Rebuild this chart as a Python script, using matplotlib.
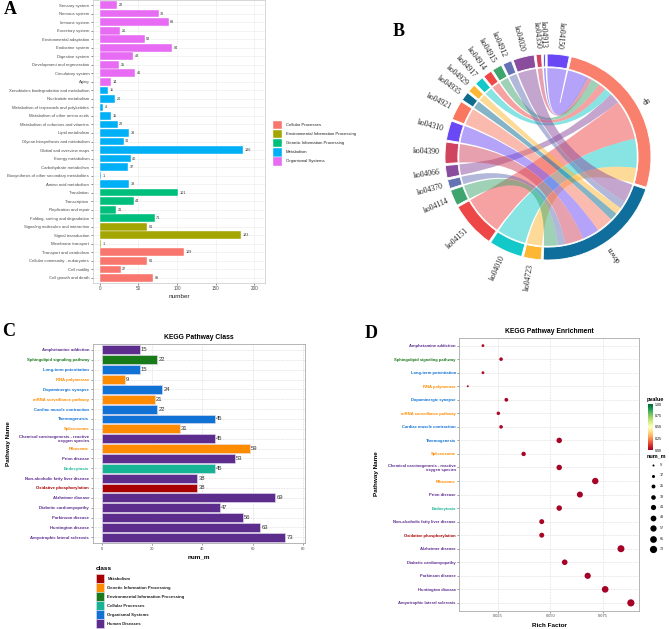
import numpy as np
import matplotlib
matplotlib.use("Agg")
import matplotlib.pyplot as plt
from matplotlib.path import Path
from matplotlib.patches import PathPatch, Wedge, Rectangle

plt.rcParams['font.family'] = ['Liberation Sans', 'DejaVu Sans']

W, H = 669, 629
fig = plt.figure(figsize=(W / 100, H / 100), dpi=100)


def rect(l, t, r, b):
    return [l / W, 1 - b / H, (r - l) / W, (b - t) / H]


# ---------------- Panel A data ----------------
a_categories = [
    "Sensory system", "Nervous system", "Immune system", "Excretory system",
    "Environmental adaptation", "Endocrine system", "Digestive system",
    "Development and regeneration", "Circulatory system", "Aging",
    "Xenobiotics biodegradation and metabolism", "Nucleotide metabolism",
    "Metabolism of terpenoids and polyketides", "Metabolism of other amino acids",
    "Metabolism of cofactors and vitamins", "Lipid metabolism",
    "Glycan biosynthesis and metabolism", "Global and overview maps",
    "Energy metabolism", "Carbohydrate metabolism",
    "Biosynthesis of other secondary metabolites", "Amino acid metabolism",
    "Translation", "Transcription", "Replication and repair",
    "Folding, sorting and degradation", "Signaling molecules and interaction",
    "Signal transduction", "Membrane transport", "Transport and catabolism",
    "Cellular community - eukaryotes", "Cell motility", "Cell growth and death",
]
a_values = [22, 76, 89, 26, 58, 94, 43, 25, 46, 14,
            11, 20, 4, 15, 23, 38, 31, 186, 40, 37, 1, 38,
            101, 44, 21, 71,
            61, 183, 1,
            109, 61, 27, 69]
a_class = (["Organismal Systems"] * 10 + ["Metabolism"] * 12 +
           ["Genetic Information Processing"] * 4 +
           ["Environmental Information Processing"] * 3 +
           ["Cellular Processes"] * 4)
a_class_names = ["Cellular Processes", "Environmental Information Processing",
                 "Genetic Information Processing", "Metabolism", "Organismal Systems"]
a_class_colors = ["#F8766D", "#A3A500", "#00BF7D", "#00B0F6", "#E76BF3"]
a_xticks = [0, 50, 100, 150, 200]

# ---------------- Panel B data ----------------
b_sectors = ["ko04150", "up", "down", "ko04723", "ko04010", "ko04151", "ko04114",
             "ko04370", "ko04066", "ko04390", "ko04310", "ko04921", "ko04935",
             "ko04929", "ko04917", "ko04914", "ko04915", "ko04912", "ko04020",
             "ko04350", "ko04913"]
b_colors = ["#6A48F4", "#F9806C", "#0F6E9C", "#FDB733", "#12C8C8", "#EE4747",
            "#3FA46E", "#6572B4", "#8A4D9E", "#D1445F", "#6A48F4", "#F9765F",
            "#0D6B8E", "#FDB733", "#12C8C8", "#EE4747", "#3FA46E", "#6572B4",
            "#8A4D9E", "#D1445F", "#3B3AF0"]
b_link_source = ["ko04150", "ko04913", "ko04350", "ko04915", "ko04914", "ko04917",
                 "ko04066", "ko04151", "ko04010", "ko04723",
                 "ko04020", "ko04912", "ko04929", "ko04935", "ko04921", "ko04310",
                 "ko04390", "ko04370", "ko04114"]
b_link_target = ["up"] * 10 + ["down"] * 9
b_link_value = [12.5, 1.0, 3.0, 5.5, 5.0, 5.0, 7.0, 26.0, 19.0, 10.0,
                12.0, 5.0, 4.5, 5.0, 11.0, 11.0, 12.0, 5.0, 9.0]

# ---------------- Panel C / D data ----------------
cd_pathways = ["Amphetamine addiction", "Sphingolipid signaling pathway",
               "Long-term potentiation", "RNA polymerase", "Dopaminergic synapse",
               "mRNA surveillance pathway", "Cardiac muscle contraction",
               "Thermogenesis", "Spliceosome",
               "Chemical carcinogenesis - reactive\noxygen species", "Ribosome",
               "Prion disease", "Endocytosis", "Non-alcoholic fatty liver disease",
               "Oxidative phosphorylation", "Alzheimer disease",
               "Diabetic cardiomyopathy", "Parkinson disease", "Huntington disease",
               "Amyotrophic lateral sclerosis"]
cd_class = ["Human Diseases", "Environmental Information Processing",
            "Organismal Systems", "Genetic Information Processing",
            "Organismal Systems", "Genetic Information Processing",
            "Organismal Systems", "Organismal Systems",
            "Genetic Information Processing", "Human Diseases",
            "Genetic Information Processing", "Human Diseases",
            "Cellular Processes", "Human Diseases", "Metabolism",
            "Human Diseases", "Human Diseases", "Human Diseases",
            "Human Diseases", "Human Diseases"]
c_num_m = [15, 22, 15, 9, 24, 21, 22, 45, 31, 45, 59, 53, 45, 38, 38, 69, 47, 56, 63, 73]
c_class_names = ["Metabolism", "Genetic Information Processing",
                 "Environmental Information Processing", "Cellular Processes",
                 "Organismal Systems", "Human Diseases"]
c_class_colors = ["#A80000", "#FF8C00", "#187A18", "#16B494", "#1072D4", "#5D2D8E"]
c_xticks = [0, 20, 40, 60, 80]
d_rich_factor = [0.0180, 0.0266, 0.0180, 0.0108, 0.0291, 0.0253, 0.0266, 0.0542,
                 0.0373, 0.0542, 0.0713, 0.0640, 0.0542, 0.0459, 0.0459, 0.0835,
                 0.0568, 0.0677, 0.0760, 0.0882]
d_pvalue = [0.02, 0.01, 0.02, 0.03, 0.01, 0.02, 0.01, 0.005, 0.01, 0.005,
            0.004, 0.003, 0.01, 0.01, 0.01, 0.001, 0.005, 0.002, 0.001, 0.001]
d_xticks = [0.025, 0.050, 0.075]
d_size_legend = [9, 17, 25, 33, 41, 49, 57, 65, 73]

TXT = "#4D4D4D"

# ================= Panel A =================
axA = fig.add_axes(rect(92.7, 0, 265, 283))
ya = np.arange(len(a_categories))
amap = dict(zip(a_class_names, a_class_colors))
axA.barh(ya, a_values, height=0.9, color=[amap[c] for c in a_class],
         edgecolor="white", linewidth=0.3, zorder=2)
for yi, v in zip(ya, a_values):
    axA.text(v + 2, yi, str(v), fontsize=2.7, va="center", ha="left", color="#333333")
axA.set_ylim(len(ya) - 0.4, -0.6)
axA.set_xlim(-9.3, 214)
axA.set_yticks(ya)
axA.set_yticklabels(a_categories, fontsize=3.1, color=TXT)
axA.set_xticks(a_xticks)
axA.set_xticklabels([str(t) for t in a_xticks], fontsize=3.3, color=TXT)
axA.tick_params(length=1.5, width=0.4, color="#333333", pad=1)
axA.grid(color="#EBEBEB", lw=0.4, zorder=0)
axA.set_axisbelow(True)
for s in axA.spines.values():
    s.set_color("#C8C8C8")
    s.set_linewidth(0.5)
axA.set_xlabel("number", fontsize=4.6, labelpad=2, color="#222222")

# ================= Panel B =================
Rpx = 103.0
cx, cy, half = 548, 157, 135
axB = fig.add_axes(rect(cx - half, cy - half, cx + half, cy + half))
axB.set_xlim(-half / Rpx, half / Rpx)
axB.set_ylim(-half / Rpx, half / Rpx)
axB.set_aspect("equal")
axB.axis("off")

sector_size = {}
for s, t, v in zip(b_link_source, b_link_target, b_link_value):
    sector_size[s] = sector_size.get(s, 0) + v
    sector_size[t] = sector_size.get(t, 0) + v
total = sum(sector_size[s] for s in b_sectors)
gap = (360 - total) / len(b_sectors)
start = -0.5
span = {}
c = start
for s in b_sectors:
    span[s] = (c, c + sector_size[s])
    c += sector_size[s] + gap
col = dict(zip(b_sectors, b_colors))


def pol(cdeg, r):
    t = np.deg2rad(90 - cdeg)
    return (r * np.cos(t), r * np.sin(t))


def arc_pts(c1, c2, r, n=40):
    return [pol(a, r) for a in np.linspace(c1, c2, n)]


def ribbon(s1, s2, t1, t2, r):
    verts, codes = [], []
    p = arc_pts(s1, s2, r)
    verts += p
    codes += [Path.MOVETO] + [Path.LINETO] * (len(p) - 1)
    verts += [(0, 0), pol(t1, r)]
    codes += [Path.CURVE3] * 2
    p = arc_pts(t1, t2, r)
    verts += p[1:]
    codes += [Path.LINETO] * (len(p) - 1)
    verts += [(0, 0), pol(s1, r)]
    codes += [Path.CURVE3] * 2
    verts.append((0, 0))
    codes.append(Path.CLOSEPOLY)
    return Path(verts, codes)


# links
tpos = {k: span[k][0] for k in ["up", "down"]}
src_pos = {}
for s, t, v in zip(b_link_source, b_link_target, b_link_value):
    s0 = src_pos.get(s, span[s][0])
    s1 = s0 + v
    src_pos[s] = s1
    t0 = tpos[t]
    t1 = t0 + v
    tpos[t] = t1
    axB.add_patch(PathPatch(ribbon(s0, s1, t0, t1, 0.862), facecolor=col[s],
                            alpha=0.5, edgecolor="none", zorder=1))

# ring and labels
for s in b_sectors:
    c1, c2 = span[s]
    axB.add_patch(Wedge((0, 0), 1.0, 90 - c2, 90 - c1, width=0.125,
                        facecolor=col[s], edgecolor="white", lw=0.6, zorder=3))
    m = (c1 + c2) / 2
    out = 90 - m
    rot = (out + 180) % 360
    x, y = pol(m, 1.055)
    axB.text(x, y, s, rotation=rot, rotation_mode="anchor", ha="right", va="center",
             fontsize=5.6, family="Liberation Serif", color="#222222")

# ================= Panel C =================
cmap_cls = dict(zip(c_class_names, c_class_colors))
yc = np.arange(len(cd_pathways))
axC = fig.add_axes(rect(92.7, 344, 305, 543.2))
axC.barh(yc, c_num_m, height=0.9, color=[cmap_cls[c] for c in cd_class],
         edgecolor="#E8E0F0", linewidth=0.4, zorder=2)
for yi, v in zip(yc, c_num_m):
    axC.text(v + 0.4, yi, str(v), fontsize=4.2, va="center", ha="left", color="#333333")
axC.set_ylim(len(yc) - 0.4, -0.6)
axC.set_xlim(-3.7, 80.8)
axC.set_yticks(yc)
axC.set_yticklabels(cd_pathways, fontsize=3.1, fontweight="bold", linespacing=1.0)
for lab, c in zip(axC.get_yticklabels(), cd_class):
    lab.set_color(cmap_cls[c])
axC.set_xticks(c_xticks)
axC.set_xticklabels([str(t) for t in c_xticks], fontsize=2.9, color=TXT)
axC.tick_params(length=1.5, width=0.4, color="#555555", pad=1)
axC.grid(color="#C8C8C8", lw=0.45, ls=(0, (1, 1.5)), zorder=0)
axC.set_axisbelow(True)
for s in axC.spines.values():
    s.set_color("#AAAAAA")
    s.set_linewidth(0.6)
axC.set_title("KEGG Pathway Class", fontsize=4.9, fontweight="bold", pad=3.5)
axC.set_xlabel("num_m", fontsize=4.6, fontweight="bold", labelpad=3)
fig.text(8.5 / W, 1 - 443.6 / H, "Pathway Name", rotation=90, fontsize=4.6,
         fontweight="bold", ha="center", va="center")

# ================= Panel D =================
axD = fig.add_axes(rect(459.3, 337.5, 639.3, 611))


def dot_size(v):
    d_px = 2.0 + (np.sqrt(np.asarray(v, float)) - 3.0) / (np.sqrt(73) - 3.0) * 5.2
    return (d_px * 0.72) ** 2


sc = axD.scatter(d_rich_factor, yc, s=dot_size(c_num_m), c=d_pvalue, cmap="RdYlGn",
                 vmin=0, vmax=1, zorder=3, linewidths=0)
axD.set_ylim(len(yc) - 0.4, -0.6)
axD.set_xlim(0.00678, 0.0922)
axD.set_yticks(yc)
axD.set_yticklabels(cd_pathways, fontsize=3.0, fontweight="bold", linespacing=1.0)
for lab, c in zip(axD.get_yticklabels(), cd_class):
    lab.set_color(cmap_cls[c])
axD.set_xticks(d_xticks)
axD.set_xticklabels(["%.3f" % t for t in d_xticks], fontsize=2.9, color=TXT)
axD.tick_params(length=1.5, width=0.4, color="#555555", pad=1)
axD.grid(color="#C8C8C8", lw=0.45, ls=(0, (1, 1.5)), zorder=0)
axD.set_axisbelow(True)
for s in axD.spines.values():
    s.set_color("#AAAAAA")
    s.set_linewidth(0.6)
axD.set_title("KEGG Pathway Enrichment", fontsize=4.9, fontweight="bold", pad=3.5)
axD.set_xlabel("Rich Factor", fontsize=4.6, fontweight="bold", labelpad=3)
fig.text(376.7 / W, 1 - 474 / H, "Pathway Name", rotation=90, fontsize=4.6,
         fontweight="bold", ha="center", va="center")

cax = fig.add_axes(rect(647.7, 404, 652.5, 450))
cb = fig.colorbar(sc, cax=cax, ticks=[0, 0.25, 0.5, 0.75, 1.0])
cb.ax.set_yticklabels(["0.00", "0.25", "0.50", "0.75", "1.00"])
cb.ax.tick_params(labelsize=2.6, length=0, pad=1.5)
cb.outline.set_visible(False)

# ================= Overlay (legends, panel letters) =================
ov = fig.add_axes([0, 0, 1, 1])
ov.set_xlim(0, W)
ov.set_ylim(H, 0)
ov.axis("off")

# legend A
for i, (nm, cl) in enumerate(zip(a_class_names, a_class_colors)):
    yy = 125 + 9.1 * i
    ov.add_patch(Rectangle((273.3, yy - 4.2), 8.6, 8.4, facecolor=cl, edgecolor="white", lw=0.3))
    ov.text(285.5, yy, nm, fontsize=3.1, va="center", ha="left", color="#222222")

# legend C
ov.text(95.5, 568, "class", fontsize=4.6, fontweight="bold", va="center", ha="left")
for i, (nm, cl) in enumerate(zip(c_class_names, c_class_colors)):
    yy = 578.7 + 9.0 * i
    ov.add_patch(Rectangle((95.7, yy - 4.3), 8.6, 8.6, facecolor=cl, edgecolor="#E8E0F0", lw=0.4))
    ov.text(107.3, yy, nm, fontsize=3.1, fontweight="bold", va="center", ha="left", color="#222222")

# legend D
ov.text(647.0, 400, "pvalue", fontsize=4.0, fontweight="bold", va="center", ha="left")
ov.text(647.0, 456, "num_m", fontsize=4.0, fontweight="bold", va="center", ha="left")
for i, v in enumerate(d_size_legend):
    yy = 465 + 10.5 * i
    ov.scatter([652.7], [yy], s=dot_size(v), color="black", linewidths=0)
    ov.text(659.5, yy, str(v), fontsize=2.7, va="center", ha="left", color="#222222")

# panel letters
for lx, ly, lt in [(10, 10, "A"), (399, 31, "B"), (9, 332, "C"), (371, 334, "D")]:
    ov.text(lx, ly, lt, fontsize=13, fontweight="bold", family="Liberation Serif",
            ha="center", va="center")

fig.savefig("out.png", dpi=100)
